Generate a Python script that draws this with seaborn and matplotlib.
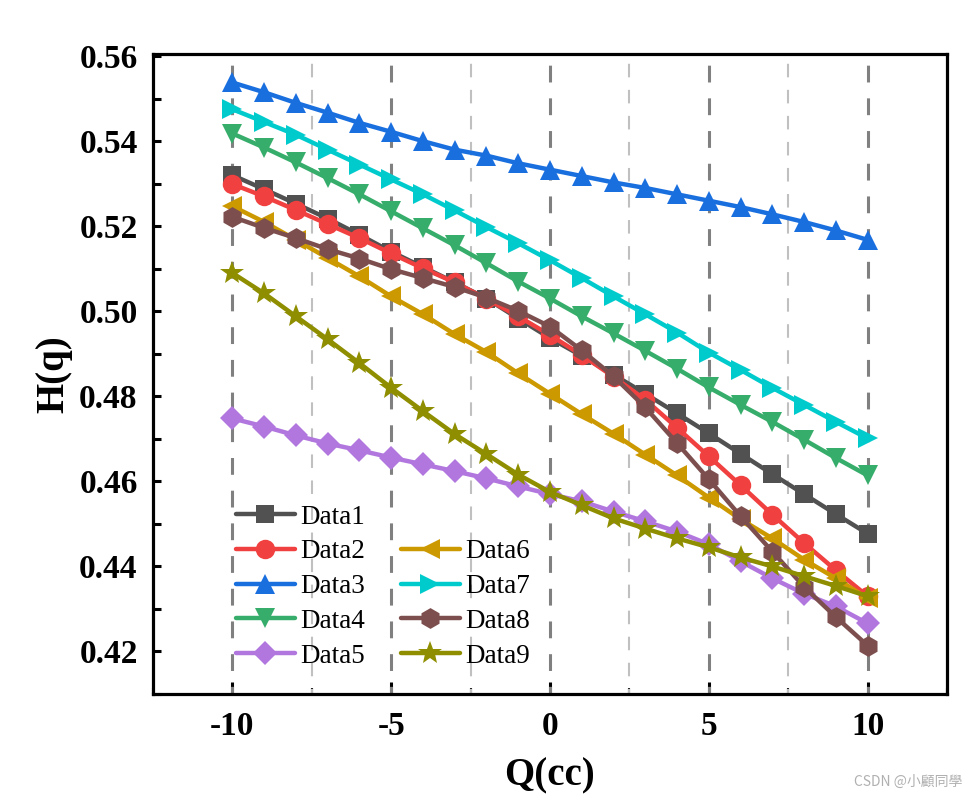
import numpy as np
import pandas as pd
import matplotlib
matplotlib.use("Agg")
import matplotlib.pyplot as plt
import seaborn as sns
from matplotlib.lines import Line2D
from matplotlib.ticker import MultipleLocator

# ---------------- data ----------------
Q = list(range(-10, 11))

data1 = [0.5320, 0.5287, 0.5253, 0.5218, 0.5180, 0.5140, 0.5104, 0.5068, 0.5030, 0.4983, 0.4937,
         0.4895, 0.4851, 0.4806, 0.4760, 0.4713, 0.4665, 0.4617, 0.4570, 0.4523, 0.4477]
data2 = [0.5299, 0.5270, 0.5238, 0.5205, 0.5172, 0.5136, 0.5101, 0.5068, 0.5029, 0.4988, 0.4944,
         0.4897, 0.4846, 0.4792, 0.4726, 0.4659, 0.4591, 0.4522, 0.4455, 0.4391, 0.4330]
data3 = [0.5538, 0.5515, 0.5490, 0.5467, 0.5443, 0.5422, 0.5400, 0.5380, 0.5366, 0.5348, 0.5333,
         0.5318, 0.5303, 0.5290, 0.5275, 0.5260, 0.5245, 0.5228, 0.5210, 0.5190, 0.5168]
data4 = [0.5418, 0.5385, 0.5350, 0.5313, 0.5275, 0.5235, 0.5195, 0.5155, 0.5113, 0.5070, 0.5030,
         0.4988, 0.4948, 0.4907, 0.4865, 0.4821, 0.4780, 0.4740, 0.4698, 0.4655, 0.4614]
data5 = [0.4748, 0.4729, 0.4708, 0.4689, 0.4673, 0.4656, 0.4640, 0.4624, 0.4607, 0.4588, 0.4570,
         0.4553, 0.4529, 0.4506, 0.4482, 0.4452, 0.4412, 0.4372, 0.4336, 0.4306, 0.4266]
data6 = [0.5247, 0.5210, 0.5168, 0.5125, 0.5082, 0.5035, 0.4993, 0.4946, 0.4904, 0.4854, 0.4806,
         0.4758, 0.4712, 0.4663, 0.4614, 0.4562, 0.4511, 0.4466, 0.4416, 0.4372, 0.4325]
data7 = [0.5475, 0.5445, 0.5415, 0.5380, 0.5345, 0.5310, 0.5275, 0.5237, 0.5198, 0.5160, 0.5120,
         0.5078, 0.5035, 0.4993, 0.4950, 0.4903, 0.4862, 0.4820, 0.4780, 0.4740, 0.4701]
data8 = [0.5222, 0.5196, 0.5172, 0.5146, 0.5124, 0.5099, 0.5078, 0.5057, 0.5032, 0.5001, 0.4964,
         0.4908, 0.4847, 0.4774, 0.4690, 0.4605, 0.4518, 0.4435, 0.4352, 0.4281, 0.4214]
data9 = [0.5090, 0.5042, 0.4988, 0.4934, 0.4878, 0.4820, 0.4765, 0.4711, 0.4664, 0.4616, 0.4575,
         0.4544, 0.4513, 0.4489, 0.4466, 0.4445, 0.4421, 0.4400, 0.4377, 0.4354, 0.4330]

series_names = ["Data1", "Data2", "Data3", "Data4", "Data5", "Data6", "Data7", "Data8", "Data9"]
series_values = [data1, data2, data3, data4, data5, data6, data7, data8, data9]
colors = ["#515151", "#F14040", "#1A6FDF", "#37AD6B", "#B177DE", "#CC9900", "#00CBCC", "#7D4E4E", "#8E8E00"]
markers = ["s", "o", "^", "v", "D", "<", ">", "h", "*"]
msizes = [13, 14, 15, 15, 12, 15, 15, 15, 18]

x_ticks = [-10, -5, 0, 5, 10]
x_ticklabels = ["-10", "-5", "0", "5", "10"]
y_ticks = [0.42, 0.44, 0.46, 0.48, 0.50, 0.52, 0.54, 0.56]
y_ticklabels = ["0.42", "0.44", "0.46", "0.48", "0.50", "0.52", "0.54", "0.56"]

# ---------------- style ----------------
sns.set_theme(style="white")
plt.rcParams["font.family"] = ["Liberation Serif", "DejaVu Serif"]
plt.rcParams["axes.unicode_minus"] = False
plt.rcParams["text.color"] = "black"
plt.rcParams["axes.labelcolor"] = "black"
plt.rcParams["xtick.color"] = "black"
plt.rcParams["ytick.color"] = "black"

fig = plt.figure(figsize=(9.77, 7.98), dpi=100)
ax = fig.add_axes([153 / 977, 1 - 694 / 798, 794 / 977, 640 / 798])
ax.grid(False)

df = pd.DataFrame({"Q": Q * len(series_names),
                   "H": sum(series_values, []),
                   "series": sum([[n] * len(Q) for n in series_names], [])})

handles = []
for name, vals, c, m, ms in zip(series_names, series_values, colors, markers, msizes):
    sub = df[df["series"] == name]
    sns.lineplot(data=sub, x="Q", y="H", ax=ax, color=c, marker=m, markersize=ms,
                 markeredgewidth=0, linewidth=3.2, legend=False, zorder=3)
    handles.append(Line2D([], [], color=c, marker=m, markersize=ms, markeredgewidth=0,
                          linewidth=3.2, solid_capstyle="round", label=name))

ax.set_xlim(-12.5, 12.5)
ax.set_ylim(0.41, 0.5605)

ax.xaxis.set_minor_locator(MultipleLocator(2.5))
ax.yaxis.set_minor_locator(MultipleLocator(0.01))
ax.set_xticks(x_ticks)
ax.set_xticklabels(x_ticklabels)
ax.set_yticks(y_ticks)
ax.set_yticklabels(y_ticklabels)

for xv in x_ticks:
    ax.axvline(xv, color="#808080", linewidth=2.2, linestyle=(3, (5.5, 5.2)), zorder=1)
for xv in [-7.5, -2.5, 2.5, 7.5]:
    ax.axvline(xv, color="#C0C0C0", linewidth=1.5, linestyle=(4, (6.5, 6)), zorder=1)

for s in ax.spines.values():
    s.set_visible(True)
    s.set_color("black")
    s.set_linewidth(2.3)

ax.tick_params(axis="x", which="major", direction="in", length=8.5, width=2.2,
               color="black", labelcolor="black", pad=12, labelsize=24, bottom=True, top=False)
ax.tick_params(axis="x", which="minor", direction="in", length=4.5, width=1.5,
               color="black", bottom=True, top=False)
ax.tick_params(axis="y", which="major", direction="in", length=5.5, width=2.2,
               color="black", labelcolor="black", pad=11, labelsize=24, left=True, right=False)
ax.tick_params(axis="y", which="minor", direction="in", length=5.5, width=2.2,
               color="black", left=True, right=False)
for lab in ax.get_xticklabels() + ax.get_yticklabels():
    lab.set_fontweight("bold")

ax.set_xlabel("Q(cc)", fontsize=28, fontweight="bold", labelpad=11, color="black")
ax.set_ylabel("H(q)", fontsize=28, fontweight="bold", labelpad=5, color="black")

blank = Line2D([], [], alpha=0, label=" ")
leg_handles = handles[:5] + [blank] + handles[5:]
leg = ax.legend(handles=leg_handles, ncol=2, loc="upper left",
                bbox_to_anchor=(0.104, 0.296), frameon=False, fontsize=19.5,
                borderpad=0, borderaxespad=0, handlelength=2.2, handletextpad=0.2,
                columnspacing=1.3, labelspacing=0.36)
for t in leg.get_texts():
    t.set_color("black")

fig.text(0.985, 0.012, "CSDN @小顧同學", ha="right", va="bottom", fontsize=10,
         color="#B0B0B0", family=["Noto Sans CJK TC", "DejaVu Sans"])

fig.savefig("out.png", dpi=100)
